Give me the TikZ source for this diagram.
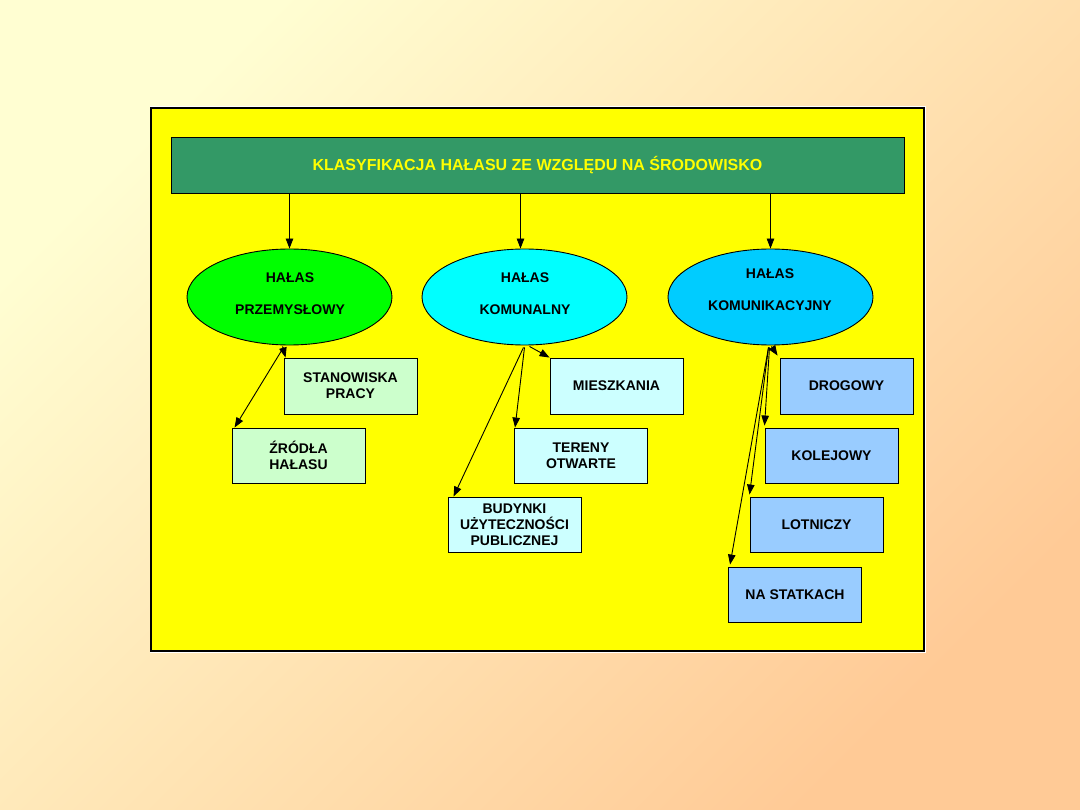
\documentclass[tikz,border=0pt]{standalone}
\usepackage{fontspec}
\setmainfont{Liberation Sans}
\usetikzlibrary{shapes.geometric,arrows.meta,calc}
\definecolor{bgUL}{HTML}{FFFED2}
\definecolor{bgLR}{HTML}{FFCA96}
\definecolor{panel}{HTML}{FFFF00}
\definecolor{titlebar}{HTML}{339966}
\definecolor{ellA}{HTML}{00FF00}
\definecolor{ellB}{HTML}{00FFFF}
\definecolor{ellC}{HTML}{00CCFF}
\definecolor{boxA}{HTML}{CCFFCC}
\definecolor{boxB}{HTML}{CCFFFF}
\definecolor{boxC}{HTML}{99CCFF}
\begin{document}
\begin{tikzpicture}[x=1pt,y=-1pt,
  ell/.style={ellipse, draw=black, line width=0.9pt, minimum width=205pt, minimum height=96pt, inner sep=0pt},
  etxt/.style={font=\bfseries\fontsize{14}{16}\selectfont, align=center, inner sep=0pt},
  catbox/.style={rectangle, draw=black, line width=0.9pt, minimum width=133pt, minimum height=55pt, font=\bfseries\fontsize{14}{16}\selectfont, align=center, inner sep=0pt},
  arr/.style={draw=black, line width=0.9pt, -{Triangle[length=10pt,width=7.5pt]}}
]
\useasboundingbox (0,0) rectangle (1080,810);
\shade[top color=bgUL, bottom color=bgLR, shading angle=45] (0,0) rectangle (1080,810);
% panel
\draw[white, line width=3pt] (151,108) rectangle (924,651);
\draw[fill=panel, draw=black, line width=1.2pt] (151,108) rectangle (924,651);
% title
\node[rectangle, draw=black, line width=0.9pt, fill=titlebar, minimum width=733pt, minimum height=56pt, inner sep=0pt,
      font=\bfseries\fontsize{16}{18}\selectfont, text=panel] (title) at (537.5,165) {KLASYFIKACJA HAŁASU ZE WZGLĘDU NA ŚRODOWISKO};
% ellipses
\node[ell, fill=ellA] (e1) at (289.5,297) {};
\node[ell, fill=ellB] (e2) at (524.5,297) {};
\node[ell, fill=ellC] (e3) at (770.5,297) {};
\node[etxt] (e1t) at (290,294) {HAŁAS\\[16pt]PRZEMYSŁOWY};
\node[etxt] (e2t) at (525,294) {HAŁAS\\[16pt]KOMUNALNY};
\node[etxt] (e3t) at (770,290) {HAŁAS\\[16pt]KOMUNIKACYJNY};
% boxes
\node[catbox, fill=boxA, minimum height=56pt] (stan) at (350.5,386) {STANOWISKA\\PRACY};
\node[catbox, fill=boxA] (zrod) at (298.5,455.5) {ŹRÓDŁA\\HAŁASU};
\node[catbox, fill=boxB, minimum height=56pt] (mies) at (616.5,386) {MIESZKANIA};
\node[catbox, fill=boxB] (tere) at (581,455.5) {TERENY\\OTWARTE};
\node[catbox, fill=boxB] (budy) at (514.5,524.5) {BUDYNKI\\UŻYTECZNOŚCI\\PUBLICZNEJ};
\node[catbox, fill=boxC, minimum height=56pt] (drog) at (846.5,386) {DROGOWY};
\node[catbox, fill=boxC] (kole) at (831.5,455.5) {KOLEJOWY};
\node[catbox, fill=boxC] (lotn) at (816.5,524.5) {LOTNICZY};
\node[catbox, fill=boxC] (stat) at (795,594.5) {NA STATKACH};
% arrows from title
\draw[arr] (title.south -| e1.north) -- (e1.north);
\draw[arr] ($(title.south -| e2.north)+(-4,0)$) -- ($(e2.north)+(-4,0)$);
\draw[arr] (title.south -| e3.north) -- (e3.north);
% arrows from ellipse 1
\draw[arr] ($(e1.south)+(-7,1)$) -- ($(stan.north west)+(2,0)$);
\draw[arr] ($(e1.south)+(-6,2)$) -- ($(zrod.north west)+(3,0)$);
% arrows from ellipse 2
\draw[arr] ($(e2.south)+(5,1)$) -- ($(mies.north west)+(0,0)$);
\draw[arr] ($(e2.south)+(0,2)$) -- ($(tere.north west)+(1,0)$);
\draw[arr] ($(e2.south)+(-1,2)$) -- ($(budy.north west)+(6,0)$);
% arrows from ellipse 3
\draw[arr] ($(e3.south)+(1,1)$) -- ($(drog.north west)+(-2,-2)$);
\draw[arr] ($(e3.south)+(-1,2)$) -- ($(kole.north west)+(0,-2)$);
\draw[arr] ($(e3.south)+(-2,2)$) -- ($(lotn.north west)+(0,-2)$);
\draw[arr] ($(e3.south)+(-2,2)$) -- ($(stat.north west)+(2,-2)$);
\end{tikzpicture}
\end{document}
